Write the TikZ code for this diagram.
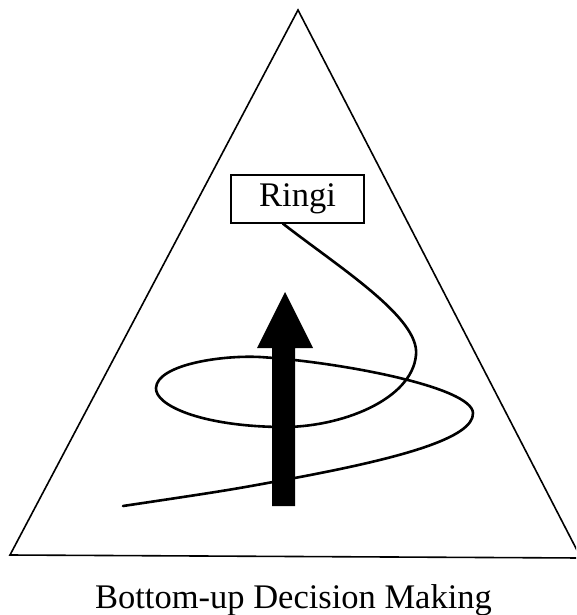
\documentclass[tikz,border=0pt]{standalone}
\usepackage{fontspec}
\setmainfont{Liberation Serif}
\usetikzlibrary{positioning}

\begin{document}
\begin{tikzpicture}[
    x=1pt, y=-1pt,
    label box/.style={
        rectangle, draw=black, line width=1.4pt,
        minimum width=133pt, minimum height=48pt,
        inner sep=0pt, font=\fontsize{34.5}{40}\selectfont
    },
    caption/.style={font=\fontsize{34.5}{40}\selectfont, anchor=base, inner sep=0pt},
    frame/.style={line width=1.6pt, line join=miter},
    spiral/.style={line width=2.6pt, line cap=round},
]
\useasboundingbox (0,0) rectangle (576,615);
\clip (0,0) rectangle (576,615);

% Dreieck
\coordinate (apex)  at (298,10);
\coordinate (left)  at (10,555);
\coordinate (right) at (581,558);
\draw[frame] (apex) -- (left) -- (right) -- cycle;

% Ringi
\node[label box] (ringi) at (297.5,199) {Ringi};
\coordinate (tail) at (123,506);

% Spirale
\draw[spiral] ([xshift=-14.5pt]ringi.south)
    .. controls (340,268) and (420,318) .. (416,355)
    .. controls (412,400) and (340,428) .. (280,427)
    .. controls (200,426) and (155,405) .. (156,388)
    .. controls (157,365) and (220,355) .. (260,357)
    .. controls (340,362) and (472,387) .. (473,413)
    .. controls (474,438) and (400,458) .. (300,477)
    .. controls (230,490) .. (tail);

% Pfeil
\fill[black] (272,506) -- (272,348) -- (257,348) -- (285,292)
    -- (313,348) -- (295,348) -- (295,506) -- cycle;

% Unterschrift
\node[caption] (title) at (293.5,608) {Bottom-up Decision Making};

\end{tikzpicture}
\end{document}
